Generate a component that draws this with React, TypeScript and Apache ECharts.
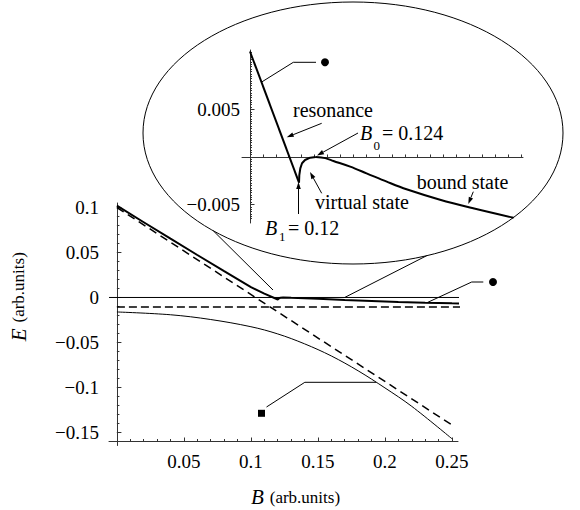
import React, { useEffect, useRef } from "react";
import * as echarts from "echarts";

const FONT = "Liberation Serif, Times New Roman, serif";

// ---------- main panel data (B, E) ----------
const mainResB = [0, 0.02, 0.04, 0.06, 0.08, 0.1, 0.11, 0.12, 0.121, 0.122, 0.124, 0.13, 0.15, 0.17, 0.19, 0.21, 0.23, 0.25, 0.282];
const mainResE = [0.102, 0.0836, 0.0653, 0.0472, 0.0292, 0.0115, 0.0043, -0.0022, -0.0008, -0.0003, 0, -0.0004, -0.0015, -0.0027, -0.0038, -0.0049, -0.0058, -0.0065, -0.0076];
const freeBoundB = [0, 0.25];
const freeBoundE = [0.1, -0.1417];
const thresholdB = [0, 0.282];
const thresholdE = [-0.0105, -0.0105];
const lowerB = [0, 0.04, 0.07, 0.1, 0.12, 0.14, 0.16, 0.18, 0.2, 0.22, 0.25];
const lowerE = [-0.0161, -0.0192, -0.0245, -0.0325, -0.0405, -0.0515, -0.065, -0.0815, -0.1005, -0.121, -0.157];
const zeroB = [-0.0059, 0.2915];
const zeroE = [0, 0];

// ---------- inset data (B, E) ----------
const insetResB = [0.109, 0.1204];
const insetResE = [0.0111, -0.0027];
const insetVirtB = [0.1204, 0.12047, 0.1207, 0.1211, 0.1218, 0.123, 0.1243];
const insetVirtE = [-0.0027, -0.0019, -0.0012, -0.00066, -0.00032, -0.00007, 0];
const insetBoundB = [0.1243, 0.1265, 0.1284, 0.1323, 0.1361, 0.1408, 0.1454, 0.1532, 0.1609, 0.1703];
const insetBoundE = [0, -0.00012, -0.00042, -0.00102, -0.00172, -0.0026, -0.0034, -0.0045, -0.0054, -0.0064];

// ---------- tick labels ----------
const mainXLabels = [0.05, 0.1, 0.15, 0.2, 0.25];
const mainYLabels = [-0.15, -0.1, -0.05, 0, 0.05, 0.1];
const insetYLabels = [-0.005, 0.005];

function range(a: number, b: number, step: number) {
  const out: number[] = [];
  const n = Math.round((b - a) / step);
  for (let i = 0; i <= n; i++) out.push(+(a + i * step).toFixed(7));
  return out;
}
const mainXMinor = range(0.01, 0.25, 0.01);
const mainYMinor = range(-0.15, 0.1, 0.01);
const insetXTicks = range(0.112, 0.172, 0.003);
const insetYMinor = range(-0.0065, 0.011, 0.00025);

const zip = (a: number[], b: number[]) => a.map((v, i) => [v, b[i]]);
const fmt = (v: number) => (v < 0 ? "\u2212" : "") + String(Math.abs(v));

const AX = "#333";

function arrow(x1: number, y1: number, x2: number, y2: number, head = 7, half = 2.3) {
  const dx = x2 - x1, dy = y2 - y1;
  const L = Math.hypot(dx, dy);
  const ux = dx / L, uy = dy / L;
  const bx = x2 - ux * head, by = y2 - uy * head;
  return [
    { type: "line", z: 20, shape: { x1, y1, x2: bx, y2: by }, style: { stroke: "#000", lineWidth: 1 } },
    {
      type: "polygon", z: 20,
      shape: { points: [[x2, y2], [bx - uy * half, by + ux * half], [bx + uy * half, by - ux * half]] },
      style: { fill: "#000" },
    },
  ];
}

function txt(text: string, x: number, y: number, size = 20, italic = false, align = "left") {
  return {
    type: "text", z: 20, x, y,
    style: {
      text, fill: "#000",
      fontFamily: FONT, fontSize: size, fontStyle: italic ? "italic" : "normal",
      textAlign: align, align, textVerticalAlign: "middle", verticalAlign: "middle",
    },
  };
}

const lineSeries = (data: number[][], width: number, xi: number, yi: number, dash: any = "solid", extra: any = {}) => ({
  type: "line", data, showSymbol: false, symbol: "none", silent: true,
  xAxisIndex: xi, yAxisIndex: yi,
  lineStyle: { color: "#000", width, type: dash },
  ...extra,
});

const XMIN = -0.0059, XMAX = 0.2545;

const option: any = {
  animation: false,
  backgroundColor: "#fff",
  textStyle: { fontFamily: FONT },
  grid: [
    { left: 107, top: 203, width: 351, height: 242.5 },
    { left: 242, top: 50, width: 281, height: 173 },
  ],
  xAxis: [
    {
      gridIndex: 0, type: "value", position: "bottom", min: XMIN, max: XMAX, offset: -4,
      axisLine: { onZero: false, lineStyle: { color: AX, width: 1 } },
      axisTick: { inside: true, length: 4, customValues: mainXLabels, lineStyle: { color: AX } },
      axisLabel: { customValues: mainXLabels, formatter: fmt, margin: 10, fontFamily: FONT, fontSize: 19, color: "#000" },
      splitLine: { show: false },
      name: "{i|B}  {n|(arb.units)}", nameLocation: "middle", nameGap: 45,
      nameTextStyle: {
        padding: [0, 0, 0, 24],
        rich: {
          i: { fontFamily: FONT, fontStyle: "italic", fontSize: 21, color: "#000" },
          n: { fontFamily: FONT, fontSize: 17, color: "#000" },
        },
      },
    },
    {
      gridIndex: 0, type: "value", position: "bottom", min: XMIN, max: XMAX, offset: -4,
      axisLine: { show: false, onZero: false },
      axisTick: { inside: true, length: 2.5, customValues: mainXMinor, lineStyle: { color: AX } },
      axisLabel: { show: false }, splitLine: { show: false },
    },
    {
      gridIndex: 1, type: "value", position: "bottom", min: 0.10714, max: 0.17249,
      axisLine: { onZero: true, lineStyle: { color: AX, width: 1 } },
      axisTick: { inside: true, length: 2.5, customValues: insetXTicks, lineStyle: { color: AX } },
      axisLabel: { show: false }, splitLine: { show: false },
    },
  ],
  yAxis: [
    {
      gridIndex: 0, type: "value", position: "left", min: -0.1645, max: 0.105,
      axisLine: { onZero: true, lineStyle: { color: AX, width: 1 } },
      axisTick: { inside: true, length: 4.5, customValues: mainYLabels, lineStyle: { color: AX } },
      axisLabel: { customValues: mainYLabels, formatter: fmt, margin: 10, fontFamily: FONT, fontSize: 19, color: "#000" },
      splitLine: { show: false },
      name: "{i|E}  {n|(arb.units)}", nameLocation: "middle", nameGap: 80,
      nameTextStyle: {
        padding: [0, 0, 0, 55],
        rich: {
          i: { fontFamily: FONT, fontStyle: "italic", fontSize: 21, color: "#000" },
          n: { fontFamily: FONT, fontSize: 17, color: "#000" },
        },
      },
    },
    {
      gridIndex: 0, type: "value", position: "left", min: -0.1645, max: 0.105,
      axisLine: { show: false, onZero: true },
      axisTick: { inside: true, length: 2.5, customValues: mainYMinor, lineStyle: { color: AX } },
      axisLabel: { show: false }, splitLine: { show: false },
    },
    {
      gridIndex: 1, type: "value", position: "left", min: -0.00695, max: 0.01126, offset: -8,
      axisLine: { lineStyle: { color: AX, width: 1 } },
      axisTick: { inside: true, length: 4.5, customValues: insetYLabels, lineStyle: { color: AX } },
      axisLabel: { customValues: insetYLabels, formatter: fmt, margin: 10, fontFamily: FONT, fontSize: 19, color: "#000" },
      splitLine: { show: false },
    },
    {
      gridIndex: 1, type: "value", position: "left", min: -0.00695, max: 0.01126, offset: -8,
      axisLine: { show: false },
      axisTick: { inside: true, length: 2, customValues: insetYMinor, lineStyle: { color: AX } },
      axisLabel: { show: false }, splitLine: { show: false },
    },
  ],
  series: [
    lineSeries(zip(zeroB, zeroE), 1, 0, 0, "solid", { clip: false }),
    lineSeries(zip(thresholdB, thresholdE), 1.5, 0, 0, [8, 4], { clip: false }),
    lineSeries(zip(lowerB, lowerE), 1, 0, 0, "solid", { smooth: 0.35 }),
    lineSeries(zip(freeBoundB, freeBoundE), 1.5, 0, 0, [8, 5]),
    lineSeries(zip(mainResB, mainResE), 2, 0, 0, "solid", { clip: false }),
    lineSeries(zip(insetResB, insetResE), 2, 2, 2),
    lineSeries(zip(insetVirtB, insetVirtE), 2, 2, 2),
    lineSeries(zip(insetBoundB, insetBoundE), 2, 2, 2, "solid", { smooth: 0.35 }),
  ],
  graphic: [
    { type: "ellipse", z: 5, shape: { cx: 353, cy: 133, rx: 210, ry: 131 }, style: { fill: "none", stroke: "#000", lineWidth: 1 } },
    { type: "line", z: 5, shape: { x1: 213.3, y1: 230.8, x2: 273, y2: 290 }, style: { stroke: "#000", lineWidth: 1 } },
    { type: "line", z: 5, shape: { x1: 426.7, y1: 255.7, x2: 345, y2: 297.3 }, style: { stroke: "#000", lineWidth: 1 } },
    // marker annotations
    { type: "polyline", z: 20, shape: { points: [[261.7, 82], [293.3, 62.3], [316, 62.3]] }, style: { stroke: "#000", lineWidth: 1, fill: "none" } },
    { type: "circle", z: 20, shape: { cx: 325, cy: 62.3, r: 4 }, style: { fill: "#000" } },
    { type: "polyline", z: 20, shape: { points: [[427, 302.7], [471.7, 282], [483.3, 282]] }, style: { stroke: "#000", lineWidth: 1, fill: "none" } },
    { type: "circle", z: 20, shape: { cx: 493, cy: 282, r: 4 }, style: { fill: "#000" } },
    { type: "polyline", z: 20, shape: { points: [[266.5, 407], [304.8, 382.3], [376, 382.3]] }, style: { stroke: "#000", lineWidth: 1, fill: "none" } },
    { type: "rect", z: 20, shape: { x: 258, y: 409.8, width: 7, height: 7 }, style: { fill: "#000" } },
    // inset labels and arrows
    txt("resonance", 333, 110, 20, false, "center"),
    ...arrow(321.7, 123.3, 286.7, 137.3),
    txt("B", 360, 133, 20, true),
    txt("0", 373.5, 145, 13),
    txt("= 0.124", 382, 133, 20),
    ...arrow(358, 133, 317, 155.5),
    txt("B", 265, 228, 20, true),
    txt("1", 279, 236, 13),
    txt("= 0.12", 288, 228, 20),
    ...arrow(298.5, 214, 298.5, 182),
    txt("virtual state", 315, 202, 20),
    ...arrow(321.7, 193.3, 310, 172),
    txt("bound state", 416.7, 182, 20),
    ...arrow(473.3, 191.7, 468.3, 204),
  ],
};

export default function App() {
  const ref = useRef<HTMLDivElement>(null);
  useEffect(() => {
    document.body.style.margin = "0";
    const chart = echarts.init(ref.current!, null, { renderer: "svg" });
    chart.setOption(option);
    return () => chart.dispose();
  }, []);
  return <div ref={ref} style={{ width: 580, height: 510 }} />;
}
